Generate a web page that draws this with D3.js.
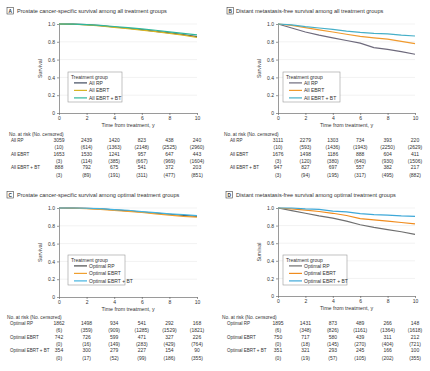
<!DOCTYPE html>
<html>
<head>
<meta charset="utf-8">
<script src="https://cdn.jsdelivr.net/npm/d3@7"></script>
<style>
  body { margin: 0; background: #fff; }
  svg { font-family: "Liberation Sans Narrow", "Liberation Sans", Arial, sans-serif; }
</style>
</head>
<body>
<div class="chart"></div>
<script>
// data
const years = [0, 1, 2, 3, 4, 5, 6, 7, 8, 9, 10]
const tableYears = [0, 2, 4, 6, 8, 10]
const yTicks = [0, 0.2, 0.4, 0.6, 0.8, 1.0]

const titles = [
  "Prostate cancer-specific survival among all treatment groups",
  "Distant metastasis-free survival among all treatment groups",
  "Prostate cancer-specific survival among optimal treatment groups",
  "Distant metastasis-free survival among optimal treatment groups"
]
const panelLetters = ["A", "B", "C", "D"]
const groupsAll = ["All RP", "All EBRT", "All EBRT + BT"]
const groupsOpt = ["Optimal RP", "Optimal EBRT", "Optimal EBRT + BT"]
const rowLabelsAll = ["All RP", "All EBRT", "All EBRT + BT"]
const rowLabelsOpt = ["Optimal RP", "Optimal EBRT", "Optimal EBRT + BT"]

// survival at each year
const survA_RP   = [1, 0.998, 0.992, 0.982, 0.966, 0.952, 0.936, 0.918, 0.900, 0.880, 0.858]
const survA_EBRT = [1, 0.997, 0.990, 0.978, 0.962, 0.948, 0.932, 0.915, 0.895, 0.875, 0.850]
const survA_BT   = [1, 0.999, 0.994, 0.985, 0.972, 0.960, 0.946, 0.930, 0.912, 0.895, 0.878]

const survB_RP   = [1, 0.955, 0.910, 0.875, 0.845, 0.815, 0.785, 0.735, 0.715, 0.690, 0.660]
const survB_EBRT = [1, 0.985, 0.960, 0.935, 0.910, 0.885, 0.860, 0.845, 0.830, 0.805, 0.780]
const survB_BT   = [1, 0.990, 0.970, 0.955, 0.940, 0.920, 0.905, 0.895, 0.890, 0.875, 0.865]

const survC_RP   = [1, 0.999, 0.995, 0.990, 0.978, 0.968, 0.955, 0.942, 0.930, 0.918, 0.905]
const survC_EBRT = [1, 0.999, 0.994, 0.985, 0.972, 0.962, 0.950, 0.935, 0.920, 0.905, 0.898]
const survC_BT   = [1, 1.000, 0.997, 0.992, 0.982, 0.975, 0.960, 0.948, 0.935, 0.925, 0.915]

const survD_RP   = [1, 0.970, 0.940, 0.910, 0.885, 0.850, 0.810, 0.780, 0.755, 0.730, 0.700]
const survD_EBRT = [1, 0.990, 0.975, 0.960, 0.940, 0.915, 0.880, 0.865, 0.850, 0.835, 0.820]
const survD_BT   = [1, 1.000, 0.990, 0.985, 0.965, 0.955, 0.935, 0.925, 0.920, 0.910, 0.905]

// number at risk / censored
const riskA = [[3059, 2439, 1420, 823, 438, 240], [1653, 1530, 1241, 957, 647, 443], [888, 792, 675, 541, 372, 203]]
const censA = [[10, 614, 1363, 2148, 2525, 2960], [3, 114, 385, 667, 969, 1604], [3, 89, 191, 311, 477, 851]]
const riskB = [[3111, 2279, 1303, 734, 393, 220], [1676, 1498, 1186, 888, 604, 411], [947, 827, 697, 557, 382, 217]]
const censB = [[10, 593, 1436, 1943, 2250, 2629], [3, 120, 380, 640, 930, 1506], [3, 94, 195, 317, 495, 882]]
const riskC = [[1862, 1498, 934, 541, 292, 168], [742, 726, 599, 471, 327, 226], [354, 300, 279, 227, 154, 90]]
const censC = [[6, 359, 909, 1285, 1529, 1821], [0, 16, 149, 283, 429, 764], [0, 17, 52, 99, 186, 355]]
const riskD = [[1895, 1431, 873, 489, 266, 148], [750, 717, 580, 439, 311, 212], [351, 321, 293, 245, 166, 100]]
const censD = [[6, 348, 826, 1161, 1364, 1618], [0, 18, 145, 270, 404, 721], [0, 19, 57, 105, 202, 355]]

const colorsA = ["#3f4a5e", "#d6b424", "#2fb79b"]
const colorsB = ["#6e6a7c", "#f09a2e", "#46afc8"]
const colorsC = ["#4a4a4a", "#f0a030", "#44b4e0"]
const colorsD = ["#6f6f6f", "#f08c1e", "#3ea8d8"]

const panels = [
  {x0: 59, x1: 197, yTop: 24, yBot: 113, boxX: 7, txtX: 17, headX: 9, labX: 11,
   surv: [survA_RP, survA_EBRT, survA_BT], groups: groupsAll, rows: rowLabelsAll, risk: riskA, cens: censA, colors: colorsA,
   leg: [68, 72, 54, 30], tableY: 136, survX: 42},
  {x0: 278, x1: 415, yTop: 24, yBot: 113, boxX: 227, txtX: 236, headX: 224, labX: 230,
   surv: [survB_RP, survB_EBRT, survB_BT], groups: groupsAll, rows: rowLabelsAll, risk: riskB, cens: censB, colors: colorsB,
   leg: [283, 72, 57, 30], tableY: 136, survX: 261},
  {x0: 59, x1: 197, yTop: 208, yBot: 297, boxX: 7, txtX: 17, headX: 7, labX: 10,
   surv: [survC_RP, survC_EBRT, survC_BT], groups: groupsOpt, rows: rowLabelsOpt, risk: riskC, cens: censC, colors: colorsC,
   leg: [68, 255, 57, 30], tableY: 319, survX: 42},
  {x0: 278, x1: 415, yTop: 208, yBot: 296, boxX: 226, txtX: 236, headX: 222, labX: 227,
   surv: [survD_RP, survD_EBRT, survD_BT], groups: groupsOpt, rows: rowLabelsOpt, risk: riskD, cens: censD, colors: colorsD,
   leg: [283, 255, 64, 30], tableY: 319, survX: 261}
]

let svg = d3.select(".chart")
  .append("svg")
  .attr("width", 430)
  .attr("height", 371)

panels.forEach((p, pi) => {
  let g = svg.append("g")

  let xScale = d3.scaleLinear().domain([0, 10]).range([p.x0, p.x1])
  let yScale = d3.scaleLinear().domain([0, 1]).range([p.yBot, p.yTop])

  // title with boxed letter
  let titleY = p.yTop - 11
  g.append("rect")
    .attr("x", p.boxX).attr("y", titleY - 5.5)
    .attr("width", 6.5).attr("height", 6.5)
    .attr("fill", "#fff").attr("stroke", "#444").attr("stroke-width", 0.6)
  g.append("text")
    .attr("x", p.boxX + 3.25).attr("y", titleY - 0.3)
    .attr("text-anchor", "middle")
    .attr("font-size", 4.8).attr("font-weight", "bold").attr("fill", "#333")
    .text(panelLetters[pi])
  g.append("text")
    .attr("x", p.txtX).attr("y", titleY)
    .attr("font-size", 5.6).attr("fill", "#333")
    .text(titles[pi])

  // gridlines
  g.selectAll(".grid")
    .data(yTicks.filter(d => d > 0))
    .enter()
    .append("line")
    .attr("x1", p.x0).attr("x2", p.x1)
    .attr("y1", d => yScale(d)).attr("y2", d => yScale(d))
    .attr("stroke", "#e4e4e4").attr("stroke-width", 0.5)

  // axes
  let yAxis = d3.axisLeft(yScale)
    .tickValues(yTicks)
    .tickFormat(d => d === 0 ? "0" : d3.format(".1f")(d))
    .tickSize(2).tickSizeOuter(0).tickPadding(2)
  let xAxis = d3.axisBottom(xScale)
    .tickValues([0, 2, 4, 6, 8, 10])
    .tickSize(2).tickSizeOuter(0).tickPadding(1.5)

  g.append("g")
    .attr("transform", `translate(${p.x0},0)`)
    .call(yAxis)
    .call(a => a.selectAll("text").attr("font-size", 5).attr("fill", "#333").attr("font-family", null))
    .call(a => a.selectAll("line, path").attr("stroke", "#555").attr("stroke-width", 0.6))
  g.append("g")
    .attr("transform", `translate(0,${p.yBot})`)
    .call(xAxis)
    .call(a => a.selectAll("text").attr("font-size", 5).attr("fill", "#333").attr("font-family", null))
    .call(a => a.selectAll("line, path").attr("stroke", "#555").attr("stroke-width", 0.6))

  // axis titles
  g.append("text")
    .attr("x", (p.x0 + p.x1) / 2).attr("y", p.yBot + 14)
    .attr("text-anchor", "middle")
    .attr("font-size", 5.3).attr("fill", "#333")
    .text("Time from treatment, y")
  g.append("text")
    .attr("transform", `translate(${p.survX},${(p.yTop + p.yBot) / 2}) rotate(-90)`)
    .attr("text-anchor", "middle")
    .attr("font-size", 5.3).attr("fill", "#333")
    .text("Survival")

  // curves
  let line = d3.line()
    .x((d, i) => xScale(years[i]))
    .y(d => yScale(d))
  p.surv.forEach((s, si) => {
    g.append("path")
      .datum(s)
      .attr("d", line)
      .attr("fill", "none")
      .attr("stroke", p.colors[si])
      .attr("stroke-width", 1.2)
  })

  // legend
  let [lx, ly, lw, lh] = p.leg
  let legend = g.append("g").attr("class", "legend")
  legend.append("rect")
    .attr("x", lx).attr("y", ly).attr("width", lw).attr("height", lh)
    .attr("fill", "#fff").attr("stroke", "#999").attr("stroke-width", 0.6)
  legend.append("text")
    .attr("x", lx + 3).attr("y", ly + 6.5)
    .attr("font-size", 5).attr("fill", "#333")
    .text("Treatment group")
  p.groups.forEach((grp, gi) => {
    let yy = ly + 12.5 + gi * 7.5
    legend.append("line")
      .attr("x1", lx + 6).attr("x2", lx + 19)
      .attr("y1", yy - 1.6).attr("y2", yy - 1.6)
      .attr("stroke", p.colors[gi]).attr("stroke-width", 1.2)
    legend.append("text")
      .attr("x", lx + 21).attr("y", yy)
      .attr("font-size", 5).attr("fill", "#333")
      .text(grp)
  })

  // risk table
  g.append("text")
    .attr("x", p.headX).attr("y", p.tableY)
    .attr("font-size", 4.8).attr("fill", "#333")
    .text("No. at risk (No. censored)")
  p.rows.forEach((r, ri) => {
    let yy = p.tableY + 6 + ri * 13.7
    g.append("text")
      .attr("x", p.labX).attr("y", yy)
      .attr("font-size", 4.5).attr("fill", "#333")
      .text(r)
    g.selectAll(null)
      .data(p.risk[ri])
      .enter()
      .append("text")
      .attr("x", (d, i) => xScale(tableYears[i]))
      .attr("y", yy)
      .attr("text-anchor", "middle")
      .attr("font-size", 5).attr("fill", "#333")
      .text(d => d)
    g.selectAll(null)
      .data(p.cens[ri])
      .enter()
      .append("text")
      .attr("x", (d, i) => xScale(tableYears[i]))
      .attr("y", yy + 7.3)
      .attr("text-anchor", "middle")
      .attr("font-size", 5).attr("fill", "#333")
      .text(d => `(${d})`)
  })
})
</script>
</body>
</html>
